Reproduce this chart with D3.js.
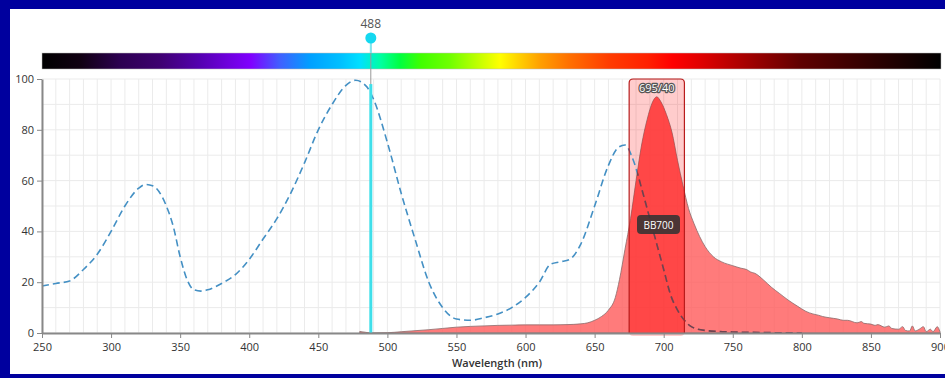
<!DOCTYPE html>
<html><head><meta charset="utf-8">
<script src="https://cdn.jsdelivr.net/npm/d3@7"></script>
<style>body{margin:0;background:#fff}svg{display:block;font-family:"Open Sans","Noto Sans",sans-serif}</style>
</head><body><svg id="c" width="945" height="378"></svg>
<script>
// ---- data ----
const xTicks = [250,300,350,400,450,500,550,600,650,700,750,800,850,900];
const yTicks = [0,20,40,60,80,100];
const laserWl = 488;
const filterCenter = 695, filterWidth = 40;
const filterLabel = "695/40";
const dyeLabel = "BB700";
const xTitle = "Wavelength (nm)";

const exWl  = [250,260,270,280,290,300,310,320,325,330,340,345,350,355,360,365,370,380,390,400,410,420,430,440,450,460,470,477,485,490,500,510,520,530,540,550,560,570,580,590,600,610,618,625,632,640,650,660,667,672,678,685,690,695,700,705,710,715,720,730,740,750,770,800];
const exVal = [18.5,19.5,20.5,25,31,40,50,57,58.5,58,50,42,30,21,17,16.5,17,19.5,23,29,37,45,55,67,80,90,97.5,99.5,97,92,75,55,37,20,10,5.5,5,6,7.5,10,14,20,27,28,29,35,50,66,73,74,68,55,45,35,25,15,9,5,2.5,1,0.6,0.4,0.2,0];

const emWl  = [480,484,488,500,510,520,530,540,550,560,570,580,590,600,610,620,630,640,645,650,655,660,665,668,672,676,680,684,688,692,695,698,702,706,710,714,718,722,726,730,736,742,750,756,760,763,766,772,778,784,790,797,803,808,812,815,820,826,830,833,840,843,845,850,853,855,860,863,865,870,873,875,878,880,882,885,888,890,893,895,898,900];
const emVal = [0.6,0.3,0,0.1,0.5,0.9,1.3,1.8,2.3,2.6,2.8,3,3.1,3.2,3.2,3.2,3.3,3.6,4,5,6.5,9,14,21,33,45,60,74,84,91,93,91,86,79,68,58,49,43,38,34,30,28,26.5,25.5,25,24,23.5,21,18,15.5,13,10.5,8.5,7.5,7,6.5,6,5.5,5,5,4,4.5,3.8,3.5,3,3.3,2.3,2.8,1.8,1.5,2.5,1,0.8,2.8,0.8,1.5,2.5,0.5,1.5,0.5,2.5,0.5];

// spectrum bar colour stops (wavelength, colour)
const specWl  = [250,278,306,335,364,386,401,422,444,466,480,495,509,524,545,567,581,595,610,631,660,688,706,726,762,798,849,900];
const specCol = ["#000000","#100012","#2c0050","#3e0070","#5400b0","#7000e0","#8000ff","#4060ff","#00a0ff","#00c0ff","#00e0ff","#00ffa0","#00ff40","#40ff00","#70ff00","#c8ff00","#ffff00","#ffd000","#ffa000","#ff7000","#ff3c00","#ff2000","#ff0000","#e00000","#a00000","#600000","#300000","#000000"];

// ---- layout ----
const svg = d3.select("#c");
const W = 945, H = 378;
const x = d3.scaleLinear().domain([250,900]).range([42,940]);
const y = d3.scaleLinear().domain([0,100]).range([333,79]);

// frame
svg.append("rect").attr("width",W).attr("height",H).attr("fill","#00009e");
svg.append("rect").attr("x",10).attr("y",9).attr("width",W-10).attr("height",365).attr("fill","#fff");

// grid
const g = svg.append("g");
g.selectAll(".vg").data(d3.range(250,901,10)).enter().append("line")
  .attr("x1",d=>x(d)).attr("x2",d=>x(d)).attr("y1",y(100)).attr("y2",y(0))
  .attr("stroke","#ebebeb").attr("stroke-width",1);
g.selectAll(".hg").data(d3.range(0,101,10)).enter().append("line")
  .attr("x1",x(250)).attr("x2",x(900)).attr("y1",d=>y(d)).attr("y2",d=>y(d))
  .attr("stroke","#ebebeb").attr("stroke-width",1);

// spectrum bar
const defs = svg.append("defs");
const grad = defs.append("linearGradient").attr("id","spec").attr("x1","0%").attr("x2","100%");
specWl.forEach((w,i)=>grad.append("stop").attr("offset",((w-250)/650*100)+"%").attr("stop-color",specCol[i]));
svg.append("rect").attr("x",x(250)).attr("y",53).attr("width",x(900)-x(250)+1).attr("height",16)
  .attr("fill","url(#spec)").attr("stroke","#bbb").attr("stroke-width",0.5);

// filter box
const fx0 = x(filterCenter-filterWidth/2), fx1 = x(filterCenter+filterWidth/2);
svg.append("rect").attr("x",fx0).attr("y",y(100)).attr("width",fx1-fx0).attr("height",y(0)-y(100)+3)
  .attr("rx",4).attr("fill","rgba(255,0,0,0.2)").attr("stroke","none");

// excitation (dashed)
const exData = exWl.map((w,i)=>[w,exVal[i]]);
const emData = emWl.map((w,i)=>[w,emVal[i]]);
const line = d3.line().x(d=>x(d[0])).y(d=>y(d[1])).curve(d3.curveMonotoneX);
const area = d3.area().x(d=>x(d[0])).y0(y(0)).y1(d=>y(d[1])).curve(d3.curveMonotoneX);

svg.append("path").datum(exData).attr("d",line).attr("fill","none")
  .attr("stroke","#4490c4").attr("stroke-width",1.6).attr("stroke-dasharray","7,4");

// emission area
svg.append("path").datum(emData).attr("d",area).attr("fill","#ff5a5a").attr("fill-opacity",0.8)
  .attr("stroke","#8a6a6a").attr("stroke-width",0.8);
// brighter inside filter
defs.append("clipPath").attr("id","fclip").append("rect").attr("x",fx0).attr("y",y(100)).attr("width",fx1-fx0).attr("height",y(0)-y(100));
svg.append("path").datum(emData).attr("d",area).attr("fill","rgba(255,20,20,0.45)").attr("clip-path","url(#fclip)");

// excitation inside emission area (darkened)
defs.append("clipPath").attr("id","emclip").append("path").datum(emData).attr("d",area);
svg.append("path").datum(exData).attr("d",line).attr("fill","none").attr("clip-path","url(#emclip)")
  .attr("stroke","#6e4450").attr("stroke-width",1.6).attr("stroke-dasharray","7,4");

// filter outline
svg.append("path")
  .attr("d",`M${fx0},${y(0)} V${y(100)+4} Q${fx0},${y(100)} ${fx0+4},${y(100)} H${fx1-4} Q${fx1},${y(100)} ${fx1},${y(100)+4} V${y(0)}`)
  .attr("fill","none").attr("stroke","#b81c1c").attr("stroke-width",1.2);
svg.append("text").attr("x",(fx0+fx1)/2).attr("y",y(100)+13).attr("text-anchor","middle")
  .attr("font-size",11).attr("fill","#fff").attr("stroke","#555").attr("stroke-width",2.5)
  .attr("paint-order","stroke").attr("stroke-linejoin","round").text(filterLabel);

// laser line
const lx = x(laserWl);
svg.append("line").attr("x1",lx).attr("x2",lx).attr("y1",38).attr("y2",y(0)).attr("stroke","#999").attr("stroke-width",1);
svg.append("line").attr("x1",lx).attr("x2",lx).attr("y1",40).attr("y2",53).attr("stroke","#7ee8f0").attr("stroke-width",2);
svg.append("line").attr("x1",lx).attr("x2",lx).attr("y1",y(98)).attr("y2",y(0)).attr("stroke","#3fdfea").attr("stroke-width",3);
svg.append("circle").attr("cx",lx).attr("cy",38).attr("r",5.5).attr("fill","#14d8f0");
svg.append("text").attr("x",lx).attr("y",28).attr("text-anchor","middle").attr("font-size",12).attr("fill","#555").text(laserWl);

// tooltip
const tg = svg.append("g");
tg.append("rect").attr("x",637).attr("y",215).attr("width",43).attr("height",19).attr("rx",4)
  .attr("fill","#333").attr("fill-opacity",0.88);
tg.append("text").attr("x",658.5).attr("y",228.5).attr("text-anchor","middle").attr("font-size",10).attr("fill","#fff").text(dyeLabel);

// axes
const xa = svg.append("g").attr("transform",`translate(0,${y(0)})`)
  .call(d3.axisBottom(x).tickValues(xTicks).tickSize(5).tickSizeOuter(0));
const ya = svg.append("g").attr("transform",`translate(${x(250)},0)`)
  .call(d3.axisLeft(y).tickValues(yTicks).tickSize(5).tickSizeOuter(0));
[xa,ya].forEach(a=>{
  a.select(".domain").attr("stroke","#888").attr("stroke-width",2);
  a.selectAll(".tick line").attr("stroke","#888");
  a.selectAll("text").attr("font-size",11).attr("fill","#333").attr("font-family","'Open Sans',sans-serif");
});
xa.selectAll("text").attr("dy","0.9em");
svg.append("text").attr("x",497).attr("y",367).attr("text-anchor","middle").attr("font-size",11)
  .attr("font-weight",600).attr("fill","#333").text(xTitle);
</script></body></html>
